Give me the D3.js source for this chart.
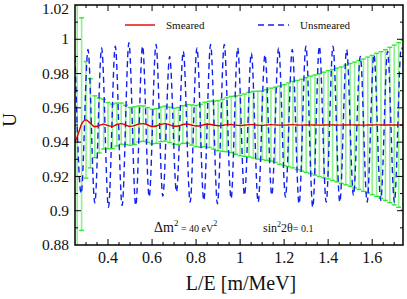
<!DOCTYPE html>
<html>
<head>
<meta charset="utf-8">
<script src="https://d3js.org/d3.v7.min.js"></script>
<style>
  body { margin: 0; background: #fff; }
  svg { display: block; }
</style>
</head>
<body>
<svg id="chart" width="407" height="299" font-family="Liberation Serif, Times New Roman, DejaVu Serif, serif"></svg>
<script>
// sample points of the smeared curve (also the error bar positions)
const barX = [0.26, 0.28, 0.30, 0.32, 0.34, 0.36, 0.38, 0.40, 0.42, 0.44, 0.46, 0.48, 0.50, 0.52, 0.54,
  0.56, 0.58, 0.60, 0.62, 0.64, 0.66, 0.68, 0.70, 0.72, 0.74, 0.76, 0.78, 0.80, 0.82, 0.84,
  0.86, 0.88, 0.90, 0.92, 0.94, 0.96, 0.98, 1.00, 1.02, 1.04, 1.06, 1.08, 1.10, 1.12, 1.14,
  1.16, 1.18, 1.20, 1.22, 1.24, 1.26, 1.28, 1.30, 1.32, 1.34, 1.36, 1.38, 1.40, 1.42, 1.44,
  1.46, 1.48, 1.50, 1.52, 1.54, 1.56, 1.58, 1.60, 1.62, 1.64, 1.66, 1.68, 1.70, 1.72, 1.74];

const smearedU = [0.943, 0.9505, 0.953, 0.951, 0.949, 0.9497, 0.9505, 0.9496, 0.9492, 0.9503, 0.9508, 0.950, 0.9492, 0.9496, 0.9506,
  0.9508, 0.950, 0.9491, 0.9494, 0.9504, 0.9508, 0.9501, 0.9493, 0.9494, 0.9503, 0.9506, 0.950, 0.9494, 0.9496, 0.9503,
  0.9504, 0.9499, 0.9496, 0.9498, 0.9502, 0.9503, 0.9499, 0.9497, 0.9499, 0.9502, 0.9502, 0.9499, 0.9498, 0.950, 0.9502,
  0.9501, 0.9499, 0.9499, 0.9501, 0.9502, 0.950, 0.9499, 0.950, 0.9501, 0.950, 0.9499, 0.950, 0.9501, 0.950, 0.950,
  0.9499, 0.950, 0.9501, 0.950, 0.950, 0.9499, 0.950, 0.950, 0.9501, 0.950, 0.950, 0.950, 0.950, 0.950, 0.950];

// half width of the green error bars
const barErr = [0.12, 0.062, 0.034, 0.026, 0.018, 0.016, 0.0145, 0.0135, 0.013, 0.0125, 0.012, 0.0115, 0.011, 0.011, 0.0105,
  0.0103, 0.0102, 0.0101, 0.0101, 0.0101, 0.0102, 0.0103, 0.0105, 0.0108, 0.011, 0.0113, 0.0117, 0.012, 0.0125, 0.013,
  0.0135, 0.014, 0.0146, 0.0152, 0.0158, 0.0164, 0.017, 0.0176, 0.0182, 0.0188, 0.0194, 0.0198, 0.020, 0.0206, 0.0213,
  0.022, 0.0228, 0.0236, 0.0244, 0.0252, 0.026, 0.0268, 0.0276, 0.0284, 0.0292, 0.030, 0.0308, 0.0316, 0.0324, 0.0332,
  0.034, 0.0349, 0.0358, 0.0367, 0.0376, 0.0386, 0.0396, 0.0406, 0.0417, 0.0428, 0.044, 0.0453, 0.0466, 0.048, 0.0495];

// unsmeared curve: its turning points
const unsmearedX = [0.25, 0.278, 0.309, 0.340, 0.371, 0.402, 0.433, 0.464, 0.495, 0.526, 0.557, 0.587, 0.618, 0.649,
  0.680, 0.711, 0.742, 0.773, 0.804, 0.835, 0.866, 0.897, 0.928, 0.959, 0.989, 1.020, 1.051, 1.082,
  1.113, 1.144, 1.175, 1.206, 1.237, 1.268, 1.299, 1.330, 1.360, 1.391, 1.422, 1.453, 1.484, 1.515,
  1.546, 1.577, 1.608, 1.639, 1.670, 1.701, 1.732, 1.74];
const unsmearedU = [0.99, 0.91, 0.994, 0.9045, 0.995, 0.902, 0.996, 0.903, 0.998, 0.903, 0.996, 0.908, 0.997, 0.9085,
  0.990, 0.911, 0.993, 0.905, 0.995, 0.906, 0.997, 0.904, 0.997, 0.907, 0.995, 0.909, 0.992, 0.905,
  0.991, 0.909, 0.995, 0.908, 0.994, 0.904, 0.996, 0.902, 0.996, 0.905, 0.996, 0.905, 0.994, 0.909,
  0.990, 0.905, 0.991, 0.906, 0.993, 0.905, 0.995, 0.994];

const xLabels = [0.4, 0.6, 0.8, 1, 1.2, 1.4, 1.6];
const yLabels = [0.88, 0.9, 0.92, 0.94, 0.96, 0.98, 1, 1.02];

const m = { left: 75, right: 403, top: 5, bottom: 245 };
const svg = d3.select("#chart");

const x = d3.scaleLinear().domain([0.25, 1.74]).range([m.left, m.right]);
const y = d3.scaleLinear().domain([0.88, 1.02]).range([m.bottom, m.top]);

svg.append("clipPath").attr("id", "clip")
  .append("rect").attr("x", m.left).attr("y", m.top)
  .attr("width", m.right - m.left).attr("height", m.bottom - m.top);

const plot = svg.append("g").attr("clip-path", "url(#clip)");

// green error bars
const bars = barX.map((v, i) => ({ x: v, c: smearedU[i], e: barErr[i] }));
plot.append("g").selectAll("line").data(bars).join("line")
  .attr("x1", d => x(d.x)).attr("x2", d => x(d.x))
  .attr("y1", d => y(d.c + d.e)).attr("y2", d => y(d.c - d.e))
  .attr("stroke", "#8ef08e").attr("stroke-width", 1.6);
const caps = plot.append("g").attr("stroke", "#2fe82f").attr("stroke-width", 1.4);
caps.selectAll(".top").data(bars).join("line").attr("class", "top")
  .attr("x1", d => x(d.x) - 2.4).attr("x2", d => x(d.x) + 2.4)
  .attr("y1", d => y(d.c + d.e)).attr("y2", d => y(d.c + d.e));
caps.selectAll(".bot").data(bars).join("line").attr("class", "bot")
  .attr("x1", d => x(d.x) - 2.4).attr("x2", d => x(d.x) + 2.4)
  .attr("y1", d => y(d.c - d.e)).attr("y2", d => y(d.c - d.e));

// unsmeared (blue dashed)
const unsm = unsmearedX.map((v, i) => [v, unsmearedU[i]]);
plot.append("path").datum(unsm)
  .attr("d", d3.line().x(d => x(d[0])).y(d => y(d[1])).curve(d3.curveMonotoneX))
  .attr("fill", "none").attr("stroke", "#1020f0").attr("stroke-width", 1.4)
  .attr("stroke-dasharray", "6,4");

// smeared (red)
const sm = [[0.25, 0.940]].concat(barX.map((v, i) => [v, smearedU[i]]));
plot.append("path").datum(sm)
  .attr("d", d3.line().x(d => x(d[0])).y(d => y(d[1])).curve(d3.curveMonotoneX))
  .attr("fill", "none").attr("stroke", "#e00000").attr("stroke-width", 1.4);

// frame and ticks
svg.append("rect").attr("x", m.left).attr("y", m.top)
  .attr("width", m.right - m.left).attr("height", m.bottom - m.top)
  .attr("fill", "none").attr("stroke", "#000").attr("stroke-width", 1.5);

const ticks = svg.append("g").attr("stroke", "#000").attr("stroke-width", 1);
const xMinor = d3.range(6, 35).map(k => k * 0.05);
xMinor.forEach(v => {
  const major = xLabels.some(l => Math.abs(l - v) < 1e-6);
  const len = major ? 6 : 3;
  ticks.append("line").attr("x1", x(v)).attr("x2", x(v)).attr("y1", m.bottom).attr("y2", m.bottom - len);
  ticks.append("line").attr("x1", x(v)).attr("x2", x(v)).attr("y1", m.top).attr("y2", m.top + len);
});
const yMinor = d3.range(89, 102).map(k => k / 100);
yMinor.forEach(v => {
  const major = yLabels.some(l => Math.abs(l - v) < 1e-6);
  const len = major ? 6 : 3;
  ticks.append("line").attr("y1", y(v)).attr("y2", y(v)).attr("x1", m.left).attr("x2", m.left + len);
  ticks.append("line").attr("y1", y(v)).attr("y2", y(v)).attr("x1", m.right).attr("x2", m.right - len);
});

svg.append("g").selectAll("text").data(xLabels).join("text")
  .attr("x", d => x(d)).attr("y", 263).attr("text-anchor", "middle")
  .attr("font-size", 16).attr("fill", "#111").text(d => String(d));
svg.append("g").selectAll("text").data(yLabels).join("text")
  .attr("x", 69).attr("y", d => Math.max(y(d) + 5.2, 13.5)).attr("text-anchor", "end")
  .attr("font-size", 15.5).attr("fill", "#111").text(d => String(d));

svg.append("text").attr("x", 241).attr("y", 290).attr("text-anchor", "middle")
  .attr("font-size", 20).attr("fill", "#111").text("L/E [m/MeV]");
svg.append("text").attr("transform", "translate(16,120) rotate(-90)")
  .attr("text-anchor", "middle").attr("font-size", 19).attr("fill", "#111").text("U");

// legend
const lg = svg.append("g");
lg.append("line").attr("x1", 125).attr("x2", 155).attr("y1", 25).attr("y2", 25)
  .attr("stroke", "#e00000").attr("stroke-width", 1.4);
lg.append("text").attr("x", 166).attr("y", 29).attr("font-size", 11).attr("fill", "#111").text("Smeared");
lg.append("line").attr("x1", 258).attr("x2", 289).attr("y1", 25).attr("y2", 25)
  .attr("stroke", "#1020f0").attr("stroke-width", 1.5).attr("stroke-dasharray", "6,4");
lg.append("text").attr("x", 300).attr("y", 29).attr("font-size", 11).attr("fill", "#111").text("Unsmeared");

// parameters
const t1 = svg.append("text").attr("x", 154).attr("y", 232).attr("fill", "#111");
t1.append("tspan").attr("font-size", 14).text("\u0394m");
t1.append("tspan").attr("font-size", 9).attr("dy", -6).text("2");
t1.append("tspan").attr("font-size", 10).attr("dy", 6).text(" = 40 eV");
t1.append("tspan").attr("font-size", 8).attr("dy", -6).text("2");

const t2 = svg.append("text").attr("x", 263).attr("y", 232).attr("fill", "#111");
t2.append("tspan").attr("font-size", 12).text("sin");
t2.append("tspan").attr("font-size", 8).attr("dy", -5).text("2");
t2.append("tspan").attr("font-size", 12).attr("dy", 5).text("2\u03b8");
t2.append("tspan").attr("font-size", 10).text("= 0.1");
</script>
</body>
</html>
